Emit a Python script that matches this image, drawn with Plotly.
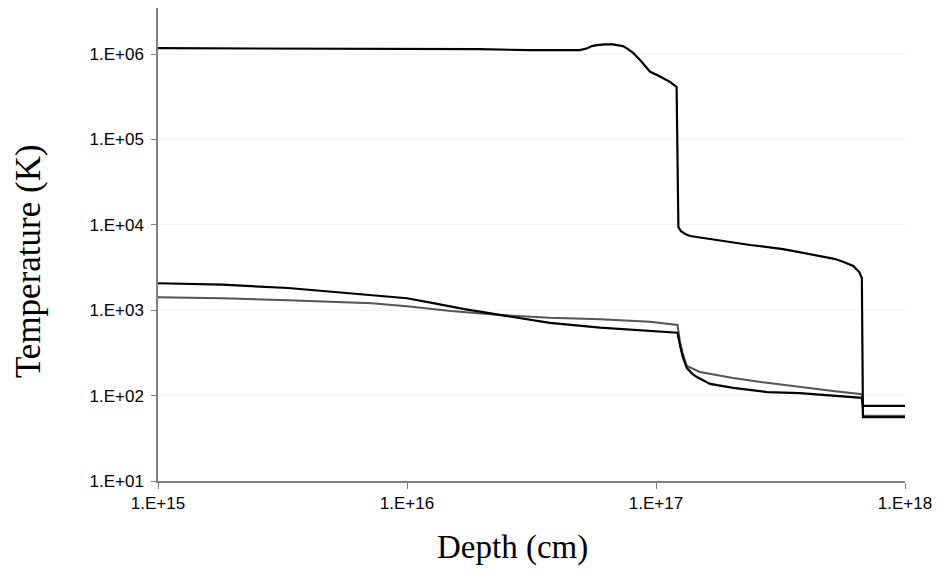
import plotly.graph_objects as go

# Depth (cm) and temperatures (K)
depth_top = [1.0e15, 3.7e15, 9.4e15, 1.96e16, 3.1e16, 4.11e16, 4.95e16, 5.29e16, 5.53e16, 5.80e16,
             6.24e16, 6.72e16, 7.03e16, 7.36e16, 7.72e16, 8.09e16, 8.63e16, 9.47e16, 1.01e17,
             1.07e17, 1.14e17, 1.21e17, 1.23e17, 1.26e17, 1.31e17, 1.37e17, 1.76e17, 2.39e17,
             3.24e17, 4.44e17, 5.2e17, 5.64e17, 6.2e17, 6.55e17, 6.71e17, 6.78e17, 1.0e18]
temp_top = [1.17e6, 1.16e6, 1.15e6, 1.14e6, 1.11e6, 1.10e6, 1.11e6, 1.17e6, 1.24e6, 1.27e6,
            1.30e6, 1.30e6, 1.28e6, 1.24e6, 1.14e6, 1.03e6, 8.5e5, 6.2e5, 5.68e5,
            5.24e5, 4.70e5, 4.11e5, 9.4e3, 8.4e3, 7.8e3, 7.4e3, 6.6e3, 5.8e3,
            5.2e3, 4.4e3, 4.0e3, 3.7e3, 3.3e3, 2.8e3, 2.38e3, 56, 56]

depth_mid = [1.0e15, 1.81e15, 3.33e15, 4.56e15, 7.23e15, 1.0e16, 1.26e16, 1.7e16, 2.36e16,
             3.75e16, 5.96e16, 1.22e17, 1.25e17, 1.28e17, 1.33e17, 1.40e17, 1.46e17, 1.65e17,
             2.04e17, 2.79e17, 3.78e17, 5.14e17, 6.71e17, 6.78e17, 1.0e18]
temp_mid = [2070, 1990, 1820, 1690, 1510, 1380, 1220, 1030, 880,
            710, 624, 545, 380, 286, 210, 180, 165, 137,
            123, 110, 107, 99, 94, 76, 76]

depth_gray = [1.0e15, 1.81e15, 3.33e15, 7.23e15, 1.0e16, 1.5e16, 2.36e16, 3.75e16, 5.96e16,
              9.46e16, 1.22e17, 1.25e17, 1.28e17, 1.33e17, 1.50e17, 2.04e17, 2.79e17, 3.78e17,
              5.14e17, 6.71e17, 6.78e17, 1.0e18]
temp_gray = [1420, 1380, 1310, 1210, 1110, 980, 880, 817, 782,
             733, 671, 420, 315, 222, 189, 161, 141, 126,
             113, 104, 58, 58]

y_ticks = [1e1, 1e2, 1e3, 1e4, 1e5, 1e6]
y_labels = ["1.E+01", "1.E+02", "1.E+03", "1.E+04", "1.E+05", "1.E+06"]
x_ticks = [1e15, 1e16, 1e17, 1e18]
x_labels = ["1.E+15", "1.E+16", "1.E+17", "1.E+18"]

x_title = "Depth (cm)"
y_title = "Temperature (K)"

fig = go.Figure()
fig.add_trace(go.Scatter(x=depth_gray, y=temp_gray, mode="lines",
                         line=dict(color="#555555", width=2), showlegend=False))
fig.add_trace(go.Scatter(x=depth_mid, y=temp_mid, mode="lines",
                         line=dict(color="#000000", width=2.2), showlegend=False))
fig.add_trace(go.Scatter(x=depth_top, y=temp_top, mode="lines",
                         line=dict(color="#000000", width=2.2), showlegend=False))

fig.update_layout(
    width=947, height=575,
    margin=dict(l=150, r=50, t=0, b=102, autoexpand=False),
    plot_bgcolor="white", paper_bgcolor="white",
    font=dict(family="Liberation Sans, Arial", size=17, color="black"),
    annotations=[
        dict(text=x_title, xref="paper", yref="paper", x=0.475, y=-0.1416,
             xanchor="center", yanchor="middle", showarrow=False,
             font=dict(family="Liberation Serif, Times New Roman", size=33)),
        dict(text=y_title, xref="paper", yref="paper", x=-0.174, y=0.465,
             xanchor="center", yanchor="middle", showarrow=False, textangle=-90,
             font=dict(family="Liberation Serif, Times New Roman", size=35)),
    ],
)
fig.update_xaxes(
    type="log", range=[15, 18], automargin=False,
    tickvals=x_ticks, ticktext=x_labels,
    showline=True, linecolor="#808080", linewidth=1.5,
    ticks="outside", ticklen=6, tickcolor="#808080",
    showgrid=False, zeroline=False,
    tickfont=dict(family="Liberation Sans, Arial", size=17),
)
fig.update_yaxes(
    type="log", range=[1, 6.539], automargin=False,
    tickvals=y_ticks, ticktext=y_labels,
    showline=True, linecolor="#808080", linewidth=1.5,
    ticks="outside", ticklen=5, tickcolor="#808080",
    showgrid=True, gridcolor="#f2f2f2", gridwidth=1,
    zeroline=False, ticklabelstandoff=4,
    tickfont=dict(family="Liberation Sans, Arial", size=17),
)

fig.write_html("out.html")
